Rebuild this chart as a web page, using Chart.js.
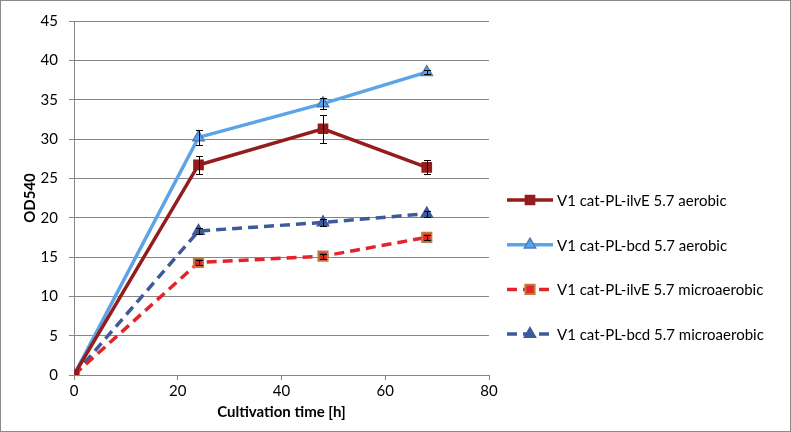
<!DOCTYPE html>
<html>
<head>
<meta charset="utf-8">
<script src="https://cdn.jsdelivr.net/npm/chart.js@4"></script>
<style>
  html, body { margin: 0; padding: 0; background: #fff; }
  #wrap { width: 791px; height: 432px; box-sizing: border-box; border: 1px solid #8a8a8a; }
  canvas { display: block; }
</style>
</head>
<body>
<div id="wrap"><canvas id="growth" width="789" height="430"></canvas></div>
<script>
const hours = [0, 24, 48, 68];

const seriesLabels = [
  "V1 cat-PL-ilvE 5.7 aerobic",
  "V1 cat-PL-bcd 5.7 aerobic",
  "V1 cat-PL-ilvE 5.7 microaerobic",
  "V1 cat-PL-bcd 5.7 microaerobic",
];

const ilvEAerobic = [0, 26.7, 31.3, 26.4];
const ilvEAerobicErr = [0, 1.1, 1.8, 0.9];

const bcdAerobic = [0, 30.2, 34.5, 38.5];
const bcdAerobicErr = [0, 1.0, 0.7, 0.3];

const ilvEMicro = [0, 14.3, 15.1, 17.5];
const ilvEMicroErr = [0, 0.3, 0.3, 0.3];

const bcdMicro = [0, 18.3, 19.4, 20.5];
const bcdMicroErr = [0, 0.4, 0.4, 0.4];

const FONT = "Lato, 'Open Sans', sans-serif";
const GRID = "#868686";

function points(values) {
  return values.map((v, i) => ({ x: hours[i], y: v }));
}

function series(label, values, errors, style) {
  return Object.assign({
    label: label,
    data: points(values),
    errors: errors,
    tension: 0,
    fill: false,
    borderWidth: 3.5,
    pointRadius: 6.5,
    pointHoverRadius: 6.5,
    pointBorderWidth: 1.5,
  }, style);
}

// error bars drawn from the scales
const errorBars = {
  id: "errorBars",
  afterDatasetsDraw(chart) {
    const { ctx, scales: { x, y } } = chart;
    ctx.save();
    ctx.strokeStyle = "#000";
    ctx.lineWidth = 1;
    chart.data.datasets.forEach(ds => {
      ds.errors.forEach((e, i) => {
        if (!e) return;
        const px = Math.round(x.getPixelForValue(ds.data[i].x)) + 0.5;
        const top = Math.round(y.getPixelForValue(ds.data[i].y + e)) + 0.5;
        const bot = Math.round(y.getPixelForValue(ds.data[i].y - e)) + 0.5;
        ctx.beginPath();
        ctx.moveTo(px, top); ctx.lineTo(px, bot);
        ctx.moveTo(px - 3.5, top); ctx.lineTo(px + 3.5, top);
        ctx.moveTo(px - 3.5, bot); ctx.lineTo(px + 3.5, bot);
        ctx.stroke();
      });
    });
    ctx.restore();
  }
};

// legend on the right: line sample with marker, then text
const sideLegend = {
  id: "sideLegend",
  afterDraw(chart) {
    const ctx = chart.ctx;
    chart.data.datasets.forEach((ds, i) => {
      const y = 199 + i * 44.7;
      ctx.save();
      ctx.strokeStyle = ds.borderColor;
      ctx.lineWidth = ds.borderWidth;
      ctx.setLineDash(ds.borderDash || []);
      ctx.beginPath();
      ctx.moveTo(506, y);
      ctx.lineTo(552, y);
      ctx.stroke();
      ctx.setLineDash([]);
      ctx.fillStyle = ds.pointBackgroundColor;
      ctx.strokeStyle = ds.pointBorderColor;
      ctx.lineWidth = ds.pointBorderWidth;
      Chart.helpers.drawPoint(ctx, {
        pointStyle: ds.pointStyle,
        radius: ds.pointRadius,
        borderWidth: ds.pointBorderWidth,
        rotation: 0,
      }, 529, y);
      ctx.fillStyle = "#000";
      ctx.font = "15px " + FONT;
      ctx.textBaseline = "middle";
      ctx.fillText(ds.label, 556, y + 1);
      ctx.restore();
    });
  }
};

const datasets = [
  series(seriesLabels[0], ilvEAerobic, ilvEAerobicErr, {
    borderColor: "#951c1c",
    pointStyle: "rect",
    pointBackgroundColor: "#951c1c",
    pointBorderColor: "#951c1c",
  }),
  series(seriesLabels[1], bcdAerobic, bcdAerobicErr, {
    borderColor: "#5ca4e8",
    pointStyle: "triangle",
    pointBackgroundColor: "#5ca4e8",
    pointBorderColor: "#4a7ebb",
  }),
  series(seriesLabels[2], ilvEMicro, ilvEMicroErr, {
    borderColor: "#e2252b",
    borderDash: [10, 6],
    pointStyle: "rect",
    pointBackgroundColor: "#e2252b",
    pointBorderColor: "#c27a3a",
    pointBorderWidth: 2,
  }),
  series(seriesLabels[3], bcdMicro, bcdMicroErr, {
    borderColor: "#3f5a9b",
    borderDash: [10, 6],
    pointStyle: "triangle",
    pointBackgroundColor: "#3f5a9b",
    pointBorderColor: "#3f5a9b",
  }),
];

const ctx = document.getElementById("growth").getContext("2d");
const growthChart = new Chart(ctx, {
  type: "line",
  data: { datasets: datasets },
  plugins: [errorBars, sideLegend],
  options: {
    responsive: false,
    animation: false,
    layout: { padding: { top: 19, right: 301, left: 0, bottom: 0 } },
    plugins: {
      legend: { display: false },
      tooltip: { enabled: false },
    },
    scales: {
      x: {
        type: "linear",
        min: 0,
        max: 80,
        ticks: { stepSize: 20, color: "#000", font: { family: FONT, size: 15 }, padding: 2 },
        grid: { drawOnChartArea: false, drawTicks: true, tickLength: 5, color: GRID },
        border: { color: GRID },
        title: {
          display: true,
          text: "Cultivation time [h]",
          color: "#000",
          font: { family: FONT, size: 15, weight: "bold" },
          padding: { top: 0, bottom: 10 },
        },
        afterFit(scale) { scale.height = 56; },
      },
      y: {
        min: 0,
        max: 45,
        ticks: { stepSize: 5, color: "#000", font: { family: FONT, size: 15 }, padding: 11 },
        grid: { color: GRID, tickLength: 5 },
        border: { color: GRID },
        title: {
          display: true,
          text: "OD540",
          color: "#000",
          font: { family: FONT, size: 15, weight: "bold" },
          padding: { top: 20, bottom: 0 },
        },
        afterFit(scale) { scale.width = 73; },
      },
    },
  },
});
</script>
</body>
</html>
